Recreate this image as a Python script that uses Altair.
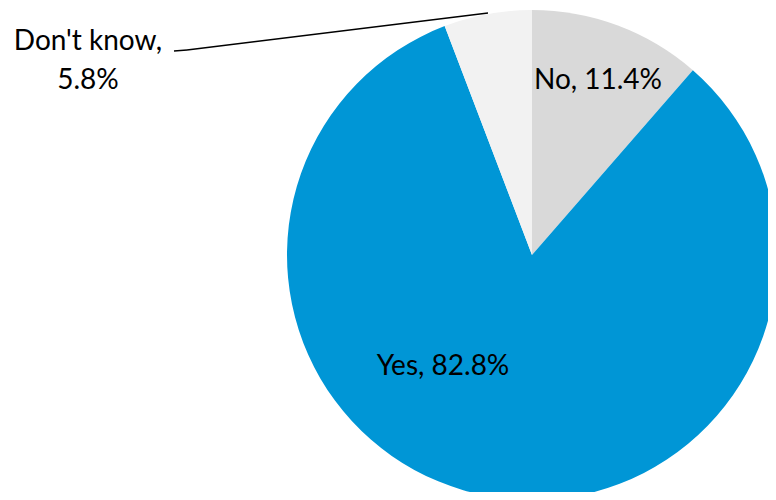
import altair as alt
import pandas as pd

categories = ["No", "Yes", "Don't know"]
values = [11.4, 82.8, 5.8]
colors = ["#d9d9d9", "#0096d6", "#f2f2f2"]

df = pd.DataFrame({"category": categories, "value": values, "order": [0, 1, 2]})
df["label"] = [f"{c}, {v}%" for c, v in zip(categories, values)]

FONT = "Lato"
FS = 28
OX, OY = 8, 8  # page margin offset

pie = alt.Chart(df).mark_arc(radius=245, stroke=None).encode(
    theta=alt.Theta("value:Q", stack=True),
    order=alt.Order("order:Q"),
    color=alt.Color("category:N", scale=alt.Scale(domain=categories, range=colors), legend=None),
    x=alt.value(532 - OX),
    y=alt.value(255 - OY),
)

def lab(text, x, y):
    return alt.Chart(pd.DataFrame({"t": [text]})).mark_text(
        font=FONT, fontSize=FS, align="center", baseline="alphabetic", color="#000000"
    ).encode(text="t:N", x=alt.value(x - OX), y=alt.value(y - OY))

no_lab = lab(df.loc[0, "label"], 598, 89)
yes_lab = lab(df.loc[1, "label"], 443, 375)
dk1 = lab("Don't know,", 88, 50)
dk2 = lab(f"{values[2]}%", 88, 89)

lead1 = alt.Chart(pd.DataFrame({"a": [0]})).mark_rule(color="#000000", strokeWidth=1.5).encode(
    x=alt.value(174 - OX), y=alt.value(51 - OY), x2=alt.value(187 - OX), y2=alt.value(50 - OY))
lead2 = alt.Chart(pd.DataFrame({"a": [0]})).mark_rule(color="#000000", strokeWidth=1.5).encode(
    x=alt.value(187 - OX), y=alt.value(50 - OY), x2=alt.value(488 - OX), y2=alt.value(13 - OY))

chart = alt.layer(pie, lead1, lead2, no_lab, yes_lab, dk1, dk2).properties(
    width=760, height=484, padding=0, autosize=alt.AutoSizeParams(type="none")
).configure_view(stroke=None)

chart.save("out.html", embed_options={"renderer": "svg", "actions": False})
